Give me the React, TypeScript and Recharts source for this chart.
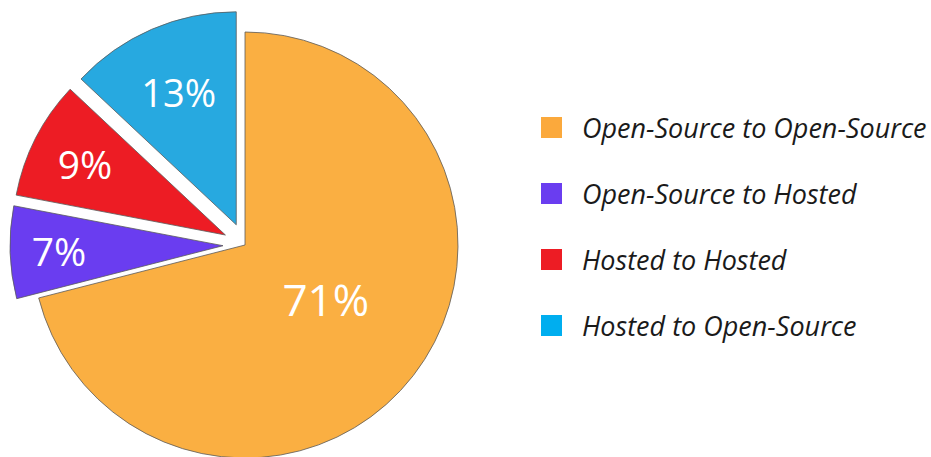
import React from "react";
import { Cell, Legend, Pie, PieChart, Sector } from "recharts";

const categories = [
  "Open-Source to Open-Source",
  "Open-Source to Hosted",
  "Hosted to Hosted",
  "Hosted to Open-Source",
];
const shares = [71, 7, 9, 13];
const exploded = [false, true, true, true];

const sliceColors = ["#FAAF42", "#6A3DF0", "#ED1C24", "#27A9E0"];
const legendColors = ["#FBA93C", "#6A3DF0", "#ED1C24", "#00AEEF"];
const labelRadius = [0.48, 0.77, 0.74, 0.68];
const labelSize = [44, 39, 39, 38];
const EXPLODE = 22;
const RAD = Math.PI / 180;
const FONT = '"Open Sans", "Noto Sans", sans-serif';

const data = categories.map((name, i) => ({
  name,
  value: shares[i],
  exploded: exploded[i],
}));

const offsetFor = (index: number, midAngle: number) => {
  const d = exploded[index] ? EXPLODE : 0;
  return { dx: d * Math.cos(-midAngle * RAD), dy: d * Math.sin(-midAngle * RAD) };
};

const ExplodedSector = (props: any) => {
  const idx = data.findIndex((d) => d.name === (props.payload?.name ?? props.name));
  const { dx, dy } = offsetFor(idx, props.midAngle);
  return <Sector {...props} cx={props.cx + dx} cy={props.cy + dy} />;
};

const renderLabel = (props: any) => {
  const { cx, cy, midAngle, outerRadius, index, value } = props;
  const { dx, dy } = offsetFor(index, midAngle);
  const r = outerRadius * labelRadius[index];
  const x = cx + dx + r * Math.cos(-midAngle * RAD);
  // the big slice's label sits a little higher than its mid-angle
  const y = cy + dy + r * Math.sin(-midAngle * RAD) - (index === 0 ? 9 : 0);
  return (
    <text
      x={x}
      y={y}
      fill="#ffffff"
      textAnchor="middle"
      dominantBaseline="central"
      fontFamily={FONT}
      fontSize={labelSize[index]}
    >
      {`${value}%`}
    </text>
  );
};

const renderLegend = () => (
  <ul style={{ listStyle: "none", margin: 0, padding: 0 }}>
    {categories.map((c, i) => (
      <li key={c} style={{ display: "flex", alignItems: "center", height: 66 }}>
        <span
          style={{
            display: "inline-block",
            width: 21,
            height: 21,
            background: legendColors[i],
            marginRight: 20,
          }}
        />
        <span
          style={{
            fontFamily: FONT,
            fontStyle: "italic",
            fontSize: 27,
            color: "#1a1a1a",
            whiteSpace: "nowrap",
          }}
        >
          {c}
        </span>
      </li>
    ))}
  </ul>
);

export default function App() {
  return (
    <div style={{ position: "absolute", left: 0, top: 0, width: 931, height: 457, background: "#fff" }}>
      <PieChart width={931} height={457} margin={{ top: 0, right: 0, bottom: 0, left: 0 }}>
        <Pie
          data={data}
          dataKey="value"
          nameKey="name"
          cx={245}
          cy={245}
          outerRadius={213}
          startAngle={90}
          endAngle={-270}
          stroke="#5a5a5a"
          strokeWidth={0.8}
          label={renderLabel}
          labelLine={false}
          shape={ExplodedSector}
          isAnimationActive={false}
        >
          {data.map((d, i) => (
            <Cell key={d.name} fill={sliceColors[i]} />
          ))}
        </Pie>
        <Legend
          layout="vertical"
          align="right"
          verticalAlign="top"
          content={renderLegend}
          wrapperStyle={{ position: "absolute", left: 541, top: 94, width: 390 }}
        />
      </PieChart>
    </div>
  );
}
